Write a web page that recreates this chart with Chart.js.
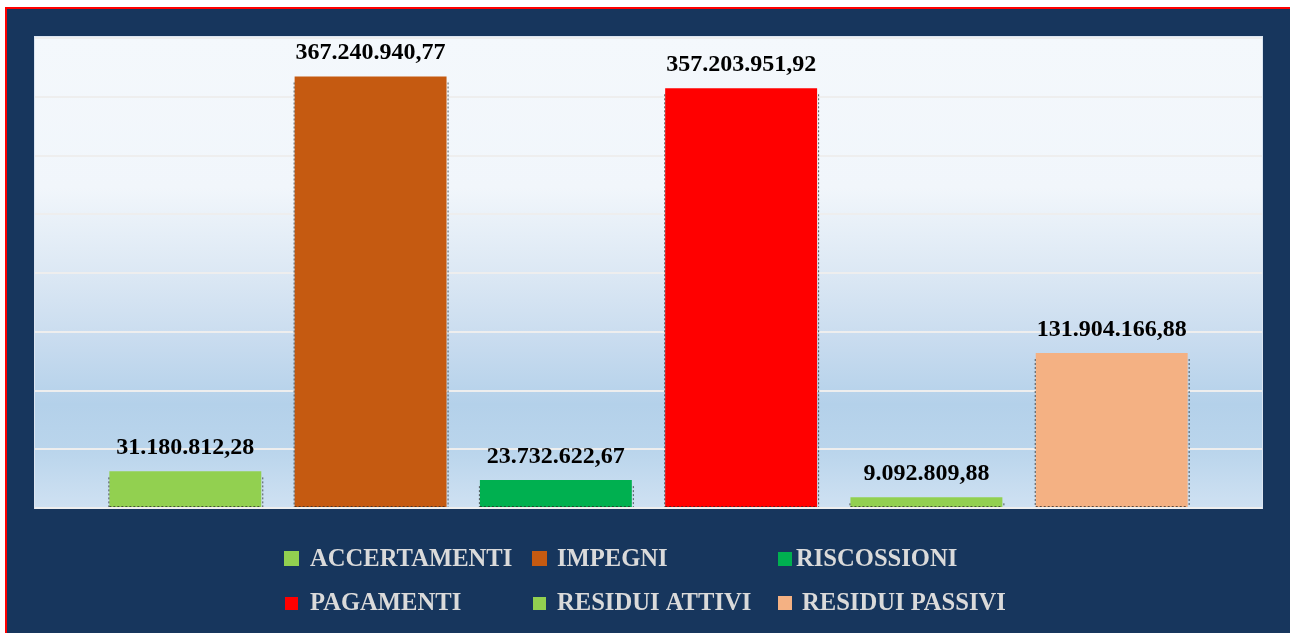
<!DOCTYPE html>
<html>
<head>
<meta charset="utf-8">
<script src="https://cdn.jsdelivr.net/npm/chart.js@4"></script>
<style>
  html, body { margin: 0; padding: 0; background: #ffffff; }
  body { width: 1290px; height: 633px; position: relative; overflow: hidden; }
  #frame {
    position: absolute; left: 5px; top: 7px; width: 1283px; height: 624px;
    background: #17365d;
    border-left: 2px solid #ff0000;
    border-top: 2px solid #ff0000;
  }
  #myChart { position: absolute; left: 0; top: 0; }
</style>
</head>
<body>
<div id="frame"></div>
<canvas id="myChart" width="1290" height="633"></canvas>
<script>
"use strict"

// data
const seriesNames = ["ACCERTAMENTI", "IMPEGNI", "RISCOSSIONI", "PAGAMENTI", "RESIDUI ATTIVI", "RESIDUI PASSIVI"];
const seriesValues = [31180812.28, 367240940.77, 23732622.67, 357203951.92, 9092809.88, 131904166.88];
const seriesColors = ["#92d050", "#c55a11", "#00b050", "#ff0000", "#92d050", "#f4b183"];
const yMax = 400000000;
const yStep = 50000000;

// italian number format 1.234.567,89
function formatIt(v) {
    const parts = v.toFixed(2).split(".");
    const intPart = parts[0].replace(/\B(?=(\d{3})+(?!\d))/g, ".");
    return intPart + "," + parts[1];
}

const datasets = [];
for (let i = 0; i < seriesNames.length; i++) {
    datasets.push({
        label: seriesNames[i],
        data: [seriesValues[i]],
        backgroundColor: seriesColors[i],
        borderWidth: 0
    });
}

// plot area gradient background
const plotBackground = {
    id: "plotBackground",
    beforeDraw(chart) {
        const ctx = chart.ctx;
        const a = chart.chartArea;
        const top = a.top - 1;
        const g = ctx.createLinearGradient(0, top, 0, a.bottom);
        g.addColorStop(0, "#f4f8fc");
        g.addColorStop(0.32, "#f1f6fb");
        g.addColorStop(0.5, "#dce8f4");
        g.addColorStop(0.64, "#c9dcef");
        g.addColorStop(0.78, "#b4d1ea");
        g.addColorStop(0.88, "#bad5ec");
        g.addColorStop(1, "#cfe1f2");
        ctx.save();
        ctx.fillStyle = g;
        ctx.fillRect(a.left, top, a.right - a.left, a.bottom - top);
        ctx.strokeStyle = "#dbe5f1";
        ctx.lineWidth = 1;
        ctx.strokeRect(a.left - 0.5, top - 0.5, a.right - a.left + 1, a.bottom - top + 1);
        ctx.restore();
    }
};

// value labels above bars + dotted bar edges
const barLabels = {
    id: "barLabels",
    afterDatasetsDraw(chart) {
        const ctx = chart.ctx;
        ctx.save();
        chart.data.datasets.forEach((ds, i) => {
            const bar = chart.getDatasetMeta(i).data[0];
            const left = bar.x - bar.width / 2;
            const right = bar.x + bar.width / 2;
            ctx.strokeStyle = "rgba(40,40,40,0.75)";
            ctx.lineWidth = 1;
            ctx.setLineDash([2, 2]);
            ctx.beginPath();
            ctx.moveTo(left - 0.5, bar.y + 6);
            ctx.lineTo(left - 0.5, bar.base);
            ctx.moveTo(right + 1.5, bar.y + 6);
            ctx.lineTo(right + 1.5, bar.base);
            ctx.moveTo(left, bar.base - 0.5);
            ctx.lineTo(right, bar.base - 0.5);
            ctx.stroke();
            ctx.setLineDash([]);

            ctx.fillStyle = "#000000";
            ctx.font = "bold 24px 'Liberation Serif', 'DejaVu Serif', serif";
            ctx.textAlign = "center";
            ctx.textBaseline = "alphabetic";
            ctx.fillText(formatIt(ds.data[0]), bar.x, bar.y - 17);
        });
        ctx.restore();
    }
};

// legend in a 3 x 2 grid
const legendBoxX = [284, 532, 778, 285, 533, 778];
const legendBoxSize = [15, 15, 14, 13, 13, 14];
const legendTextX = [310, 557, 796, 310, 557, 802];
const legendBaseY = [566, 566, 566, 610, 610, 610];

const gridLegend = {
    id: "gridLegend",
    afterDraw(chart) {
        const ctx = chart.ctx;
        ctx.save();
        ctx.font = "bold 24.6px 'Liberation Serif', 'DejaVu Serif', serif";
        ctx.textAlign = "left";
        ctx.textBaseline = "alphabetic";
        chart.data.datasets.forEach((ds, i) => {
            const s = legendBoxSize[i];
            ctx.fillStyle = ds.backgroundColor;
            ctx.fillRect(legendBoxX[i], legendBaseY[i] - s, s, s);
            ctx.fillStyle = "#dadada";
            ctx.fillText(ds.label, legendTextX[i], legendBaseY[i]);
        });
        ctx.restore();
    }
};

const config = {
    type: "bar",
    data: {
        labels: [""],
        datasets: datasets
    },
    options: {
        responsive: false,
        animation: false,
        layout: {
            padding: { left: 35, top: 38, right: 28, bottom: 125 }
        },
        datasets: {
            bar: {
                categoryPercentage: 0.906,
                barPercentage: 0.82
            }
        },
        scales: {
            x: {
                display: false
            },
            y: {
                min: 0,
                max: yMax,
                ticks: { display: false, stepSize: yStep },
                grid: {
                    color: "#eeeeee",
                    lineWidth: 2,
                    drawTicks: false
                },
                border: { display: false }
            }
        },
        plugins: {
            legend: { display: false },
            tooltip: { enabled: false }
        }
    },
    plugins: [plotBackground, barLabels, gridLegend]
};

const myChart = new Chart(document.getElementById("myChart"), config);
</script>
</body>
</html>
